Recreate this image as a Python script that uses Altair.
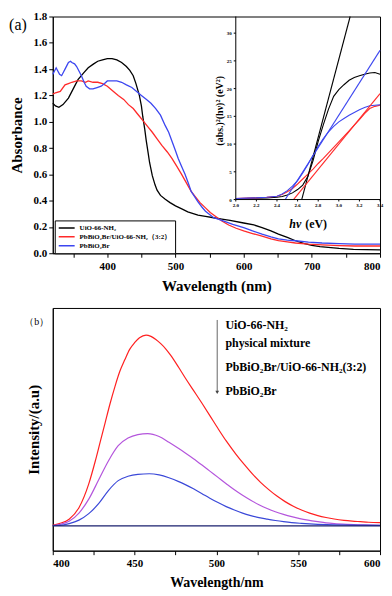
import altair as alt
import pandas as pd

SERIF = "Liberation Serif"

# ---------------- panel (a): UV-vis absorbance ----------------
uio_wl = [320, 324, 329, 335, 343, 350, 357, 365, 372, 380, 386, 393, 400, 407, 414, 421, 428, 433, 438, 442,
          447, 450, 452, 455, 457, 460, 462, 466, 470, 473, 478, 485, 492, 500, 510, 518, 533, 544, 556, 568,
          580, 600, 615, 627, 640, 651, 664, 676, 688, 700, 712, 724, 740, 761, 780, 800]
uio_abs = [1.14, 1.12, 1.11, 1.13, 1.18, 1.25, 1.32, 1.37, 1.41, 1.44, 1.46, 1.47, 1.48, 1.48, 1.47, 1.45, 1.42,
           1.39, 1.35, 1.29, 1.20, 1.12, 1.04, 0.94, 0.86, 0.76, 0.69, 0.59, 0.52, 0.48, 0.44, 0.41, 0.385,
           0.36, 0.335, 0.315, 0.29, 0.28, 0.27, 0.26, 0.25, 0.23, 0.215, 0.195, 0.17, 0.145, 0.12, 0.095,
           0.075, 0.06, 0.05, 0.045, 0.037, 0.03, 0.027, 0.025]

comp_wl = [320, 324, 331, 338, 343, 348, 355, 362, 368, 372, 379, 386, 393, 400, 409, 416, 424, 431, 438, 445,
           452, 459, 466, 473, 480, 488, 495, 502, 509, 516, 523, 529, 536, 544, 551, 559, 568, 578, 589, 600,
           613, 627, 640, 651, 664, 676, 695, 715, 740, 763, 800]
comp_abs = [1.21, 1.22, 1.23, 1.28, 1.29, 1.30, 1.31, 1.31, 1.30, 1.31, 1.30, 1.30, 1.29, 1.27, 1.23, 1.20,
            1.17, 1.13, 1.10, 1.055, 1.01, 0.965, 0.92, 0.87, 0.82, 0.77, 0.72, 0.66, 0.60, 0.535, 0.47, 0.43,
            0.385, 0.345, 0.31, 0.28, 0.245, 0.215, 0.19, 0.17, 0.15, 0.13, 0.11, 0.096, 0.086, 0.078, 0.069,
            0.063, 0.058, 0.055, 0.055]

pb_wl = [320, 322, 325, 327, 330, 333, 336, 338, 341, 343, 346, 348, 352, 355, 359, 362, 366, 369, 374, 379,
         385, 391, 396, 400, 407, 414, 421, 428, 436, 443, 450, 457, 464, 471, 478, 485, 490, 495, 500, 504,
         509, 514, 519, 523, 528, 533, 539, 544, 556, 568, 584, 600, 613, 627, 640, 651, 664, 676, 695, 715,
         740, 763, 800]
pb_abs = [1.36, 1.38, 1.41, 1.39, 1.36, 1.35, 1.38, 1.40, 1.43, 1.45, 1.46, 1.45, 1.44, 1.42, 1.38, 1.35,
          1.30, 1.27, 1.25, 1.25, 1.26, 1.27, 1.29, 1.31, 1.31, 1.31, 1.30, 1.28, 1.26, 1.23, 1.20, 1.17,
          1.14, 1.10, 1.05, 0.97, 0.92, 0.85, 0.78, 0.72, 0.66, 0.60, 0.53, 0.47, 0.43, 0.39, 0.35, 0.32,
          0.27, 0.25, 0.22, 0.195, 0.17, 0.145, 0.125, 0.11, 0.10, 0.095, 0.085, 0.078, 0.073, 0.07, 0.07]

names_a = ["UiO-66-NH₂", "PbBiO₂Br/UiO-66-NH₂（3:2）", "PbBiO₂Br"]
colors_a = ["#000000", "#ff2a2a", "#3c46f0"]

# ---------------- inset: Tauc plot ----------------
ev = [2.0, 2.1, 2.2, 2.3, 2.4, 2.45, 2.5, 2.55, 2.6, 2.65, 2.7, 2.75, 2.8, 2.85, 2.9, 2.95, 3.0, 3.05, 3.1,
      3.15, 3.2, 3.25, 3.3, 3.35, 3.4]
inset_uio = [0.15, 0.2, 0.25, 0.3, 0.4, 0.55, 0.8, 1.2, 1.8, 2.6, 4.2, 7.0, 10.5, 13.5, 16.3, 18.6, 19.8,
             20.7, 21.5, 22.0, 22.3, 22.6, 22.8, 22.9, 22.6]
inset_comp = [0.2, 0.25, 0.3, 0.4, 0.6, 0.9, 1.4, 2.0, 2.8, 3.7, 4.6, 5.5, 6.5, 7.4, 8.4, 9.4, 10.4, 11.4,
              12.4, 13.4, 14.4, 15.5, 16.4, 16.8, 17.0]
inset_pb = [0.2, 0.25, 0.3, 0.4, 0.6, 1.0, 1.6, 2.4, 3.4, 4.8, 6.3, 8.0, 9.6, 11.0, 12.2, 13.2, 14.0, 14.6,
            15.2, 15.7, 16.2, 16.6, 16.9, 17.0, 17.1]
tan_uio_ev, tan_uio_val = [2.64, 3.11], [0, 33]
tan_comp_ev, tan_comp_val = [2.56, 3.4], [0, 19.1]
tan_pb_ev, tan_pb_val = [2.48, 3.4], [0, 26.9]

inset_ev_min, inset_ev_max = 2.0, 3.4
inset_val_max = 33
inset_xticks = [2.0, 2.2, 2.4, 2.6, 2.8, 3.0, 3.2, 3.4]
inset_yticks = [0, 5, 10, 15, 20, 25, 30]
inset_ytitle = "(abs.)²(hν)² (eV²)"
inset_ytitle_val = 16
inset_xtitle_parts = ["hν", "(eV)"]
inset_xtitle_ev = [2.635, 2.674]

# ---------------- panel (b): PL spectra ----------------
b_uio_wl = [400, 404, 410, 416, 422, 426, 429, 432, 435, 438, 441, 444, 447, 450, 453, 457, 460, 463, 466,
            469, 472, 477, 481, 486, 491, 496, 501, 506, 512, 517, 522, 527, 532, 537, 542, 547, 552, 557,
            562, 567, 572, 578, 583, 588, 593, 600]
b_uio_i = [0.003, 0.012, 0.035, 0.095, 0.22, 0.34, 0.44, 0.54, 0.64, 0.73, 0.81, 0.87, 0.925, 0.96, 0.986,
           1.0, 0.993, 0.977, 0.955, 0.928, 0.895, 0.83, 0.775, 0.71, 0.645, 0.578, 0.51, 0.445, 0.375, 0.322,
           0.272, 0.228, 0.19, 0.156, 0.127, 0.103, 0.083, 0.067, 0.054, 0.044, 0.036, 0.029, 0.025, 0.022,
           0.019, 0.017]
b_mix_wl = [400, 404, 410, 416, 422, 428, 434, 440, 446, 452, 458, 465, 471, 477, 481, 486, 491, 496, 501,
            506, 511, 516, 521, 526, 531, 536, 541, 546, 551, 556, 562, 567, 572, 580, 590, 600]
b_mix_i = [0.002, 0.007, 0.024, 0.067, 0.14, 0.24, 0.34, 0.42, 0.46, 0.478, 0.483, 0.468, 0.438, 0.405,
           0.382, 0.352, 0.32, 0.287, 0.254, 0.221, 0.189, 0.16, 0.134, 0.111, 0.091, 0.074, 0.06, 0.048,
           0.038, 0.03, 0.022, 0.016, 0.012, 0.008, 0.005, 0.003]
b_comp_wl = [400, 404, 410, 416, 422, 428, 434, 440, 446, 452, 459, 465, 471, 477, 481, 486, 491, 496, 501,
             506, 511, 516, 521, 526, 531, 536, 541, 546, 552, 562, 572, 585, 600]
b_comp_i = [0.002, 0.003, 0.012, 0.03, 0.064, 0.116, 0.185, 0.237, 0.26, 0.27, 0.273, 0.267, 0.252, 0.232,
            0.216, 0.194, 0.17, 0.145, 0.122, 0.101, 0.083, 0.067, 0.054, 0.043, 0.035, 0.028, 0.022, 0.017,
            0.013, 0.008, 0.005, 0.004, 0.003]
b_pb_wl = [400, 600]
b_pb_i = [0.0, 0.0]

names_b = ["UiO-66-NH₂", "physical mixture", "PbBiO₂Br/UiO-66-NH₂(3:2)", "PbBiO₂Br"]
colors_b = ["#ff2020", "#b455dc", "#3a48d8", "#1a1f6e"]
label_b_wl = [505.5, 505.5, 505.5, 505.5]
label_b_i = [1.055, 0.96, 0.83, 0.706]
arrow_wl = [500.5]
arrow_top, arrow_bottom = [1.079], [0.70]

# ---------------- layout constants ----------------
W = 329
H_A = 238
H_B = 244
INSET_LEFT = 184
INSET_BOTTOM = round(H_A * 186.7 / 241)

# ---------------- data frames ----------------
df_a = pd.concat([
    pd.DataFrame({"wl": w, "absorb": a, "sample": n})
    for w, a, n in zip([uio_wl, comp_wl, pb_wl], [uio_abs, comp_abs, pb_abs], names_a)
])
inset_parts = []
for vals, n in zip([inset_uio, inset_comp, inset_pb], names_a):
    inset_parts.append(pd.DataFrame({"ev": ev, "val": vals, "sample": n, "kind": "curve"}))
for e, v, n in zip([tan_uio_ev, tan_comp_ev, tan_pb_ev], [tan_uio_val, tan_comp_val, tan_pb_val], names_a):
    inset_parts.append(pd.DataFrame({"ev": e, "val": v, "sample": n, "kind": "tangent"}))
df_in = pd.concat(inset_parts)

df_b = pd.concat([
    pd.DataFrame({"wl": w, "inten": i, "sample": n})
    for w, i, n in zip([b_uio_wl, b_mix_wl, b_comp_wl, b_pb_wl], [b_uio_i, b_mix_i, b_comp_i, b_pb_i], names_b)
])
df_lab = pd.DataFrame({"wl": label_b_wl, "inten": label_b_i, "label": names_b})
df_arrow = pd.DataFrame({"wl": arrow_wl, "inten": arrow_top, "inten2": arrow_bottom})
df_head = pd.DataFrame({"wl": arrow_wl, "inten": arrow_bottom})

# ---------------- panel (a) ----------------
main_lines = alt.Chart(df_a).mark_line(strokeWidth=1.3).encode(
    x=alt.X("wl:Q", scale=alt.Scale(domain=[320, 800], nice=False, zero=False),
            axis=alt.Axis(title="Wavelength (nm)", values=list(range(350, 801, 50)),
                          labelExpr="datum.value % 100 === 0 ? datum.label : ''",
                          labelFontSize=11, titleFontSize=15, tickSize=4, labelPadding=3, titlePadding=7)),
    y=alt.Y("absorb:Q", scale=alt.Scale(domain=[0, 1.8], nice=False),
            axis=alt.Axis(title="Absorbance", values=[round(0.2 * k, 1) for k in range(10)], format=".1f",
                          labelFontSize=11, titleFontSize=15, tickSize=4, labelPadding=2, titlePadding=9)),
    color=alt.Color("sample:N", sort=names_a, scale=alt.Scale(domain=names_a, range=colors_a),
                    legend=alt.Legend(title=None, orient="none", legendX=2, legendY=H_A - 33,
                                      direction="vertical", symbolType="stroke", symbolSize=256,
                                      symbolStrokeWidth=1.5, labelFont=SERIF, labelFontSize=7,
                                      labelFontWeight="bold", strokeColor="black", fillColor="white",
                                      padding=3, rowPadding=0, clipHeight=9, labelOffset=4,
                                      labelLimit=300)),
)

text_a = alt.Chart(pd.DataFrame({"t": ["(a)"]})).mark_text(
    font=SERIF, fontSize=16, align="center", baseline="middle", color="black"
).encode(x=alt.value(-35), y=alt.value(9), text="t:N")

# ---- inset, drawn with its own scales placed in the upper-right of the plot ----
sx = alt.Scale(domain=[inset_ev_min, inset_ev_max], range=[INSET_LEFT, W], nice=False, zero=False)
sy = alt.Scale(domain=[0, inset_val_max], range=[INSET_BOTTOM, 0], nice=False, zero=False)


def IX(f):
    return alt.X(f, type="quantitative", scale=sx, axis=None)


def IY(f):
    return alt.Y(f, type="quantitative", scale=sy, axis=None)


inset_lines = alt.Chart(df_in).mark_line(strokeWidth=1.1).encode(
    x=IX("ev"), y=IY("val"),
    color=alt.Color("sample:N", scale=alt.Scale(domain=names_a, range=colors_a), legend=None),
    detail="kind:N",
)
frame_left = alt.Chart(pd.DataFrame({"ev": [inset_ev_min], "val": [0], "val2": [inset_val_max]})).mark_rule(
    color="black", strokeWidth=1).encode(x=IX("ev"), y=IY("val"), y2="val2:Q")
frame_bottom = alt.Chart(pd.DataFrame({"ev": [inset_ev_min], "ev2": [inset_ev_max], "val": [0]})).mark_rule(
    color="black", strokeWidth=1).encode(x=IX("ev"), x2="ev2:Q", y=IY("val"))
yticks_df = pd.DataFrame({"ev": [inset_ev_min] * len(inset_yticks), "ev2": [inset_ev_min - 0.02] * len(inset_yticks),
                          "val": inset_yticks, "lab": [str(v) for v in inset_yticks]})
xticks_df = pd.DataFrame({"ev": inset_xticks, "val": [0] * len(inset_xticks), "val2": [-0.35] * len(inset_xticks),
                          "lab": [f"{v:.1f}" for v in inset_xticks]})
ytick_marks = alt.Chart(yticks_df).mark_rule(color="black", strokeWidth=1).encode(
    x=IX("ev"), x2="ev2:Q", y=IY("val"))
xtick_marks = alt.Chart(xticks_df).mark_rule(color="black", strokeWidth=1).encode(
    x=IX("ev"), y=IY("val"), y2="val2:Q")
ytick_labels = alt.Chart(yticks_df).mark_text(
    font=SERIF, fontWeight="bold", fontSize=5, align="right", baseline="middle", dx=-4, color="black"
).encode(x=IX("ev"), y=IY("val"), text="lab:N")
xtick_labels = alt.Chart(xticks_df).mark_text(
    font=SERIF, fontWeight="bold", fontSize=5, align="center", baseline="middle", dy=6, color="black"
).encode(x=IX("ev"), y=IY("val"), text="lab:N")
# rotated title: with angle 270 the text's own y-offset points to the right on screen, so dy<0 moves it left
ytitle = alt.Chart(pd.DataFrame({"ev": [inset_ev_min], "val": [inset_ytitle_val], "t": [inset_ytitle]})).mark_text(
    font=SERIF, fontWeight="bold", fontSize=10, angle=270, align="center", baseline="middle", dy=-16,
    color="black"
).encode(x=IX("ev"), y=IY("val"), text="t:N")
xtitle_h = alt.Chart(pd.DataFrame({"ev": [inset_xtitle_ev[0]], "val": [0], "t": [inset_xtitle_parts[0]]})).mark_text(
    font=SERIF, fontWeight="bold", fontStyle="italic", fontSize=12, align="right", baseline="middle", dy=25,
    color="black"
).encode(x=IX("ev"), y=IY("val"), text="t:N")
xtitle_u = alt.Chart(pd.DataFrame({"ev": [inset_xtitle_ev[1]], "val": [0], "t": [inset_xtitle_parts[1]]})).mark_text(
    font=SERIF, fontWeight="bold", fontSize=12, align="left", baseline="middle", dy=25, color="black"
).encode(x=IX("ev"), y=IY("val"), text="t:N")

inset = alt.layer(inset_lines, frame_left, frame_bottom, ytick_marks, xtick_marks, ytick_labels,
                  xtick_labels, ytitle, xtitle_h, xtitle_u)

top = alt.layer(main_lines, text_a, inset).resolve_scale(
    x="independent", y="independent", color="independent"
).properties(width=W, height=H_A)

# ---------------- panel (b) ----------------
xb = alt.X("wl:Q", scale=alt.Scale(domain=[400, 600], nice=False, zero=False),
           axis=alt.Axis(title="Wavelength/nm", values=list(range(400, 601, 25)),
                         labelExpr="datum.value % 50 === 0 ? datum.label : ''",
                         labelFontSize=11, titleFontSize=14, tickSize=4, labelPadding=3, titlePadding=7))
yb = alt.Y("inten:Q", scale=alt.Scale(domain=[-0.13, 1.142], nice=False, zero=False),
           axis=alt.Axis(title="Intensity/(a.u)", labels=False, ticks=False, titleFontSize=15, titlePadding=11))

lines_b = alt.Chart(df_b).mark_line(strokeWidth=1.2, interpolate="monotone").encode(
    x=xb, y=yb,
    color=alt.Color("sample:N", sort=names_b, scale=alt.Scale(domain=names_b, range=colors_b), legend=None),
)
arrow = alt.Chart(df_arrow).mark_rule(color="#666666", strokeWidth=1).encode(
    x="wl:Q", y="inten:Q", y2="inten2:Q")
head = alt.Chart(df_head).mark_point(shape="triangle-down", filled=True, size=14, color="#444444",
                                     opacity=1).encode(x="wl:Q", y="inten:Q")
labels_b = alt.Chart(df_lab).mark_text(
    font=SERIF, fontWeight="bold", fontSize=12, align="left", baseline="middle", color="black"
).encode(x="wl:Q", y="inten:Q", text="label:N")
text_b = alt.Chart(pd.DataFrame({"t": ["（b）"]})).mark_text(
    font=SERIF, fontSize=10, align="center", baseline="middle", color="black"
).encode(x=alt.value(-16), y=alt.value(14), text="t:N")

bottom = alt.layer(lines_b, arrow, head, labels_b, text_b).properties(width=W, height=H_B)

chart = alt.vconcat(top, bottom, spacing=13).properties(
    padding={"left": 0, "top": 0, "right": 0, "bottom": 0}
).configure_view(stroke="black", strokeWidth=1).configure_axis(
    domainColor="black", tickColor="black", labelColor="black", titleColor="black",
    labelFont=SERIF, titleFont=SERIF, labelFontWeight="bold", titleFontWeight="bold",
    grid=False, domainWidth=1, tickWidth=1,
)

chart.save("out.html", embed_options={"renderer": "svg", "actions": False})
